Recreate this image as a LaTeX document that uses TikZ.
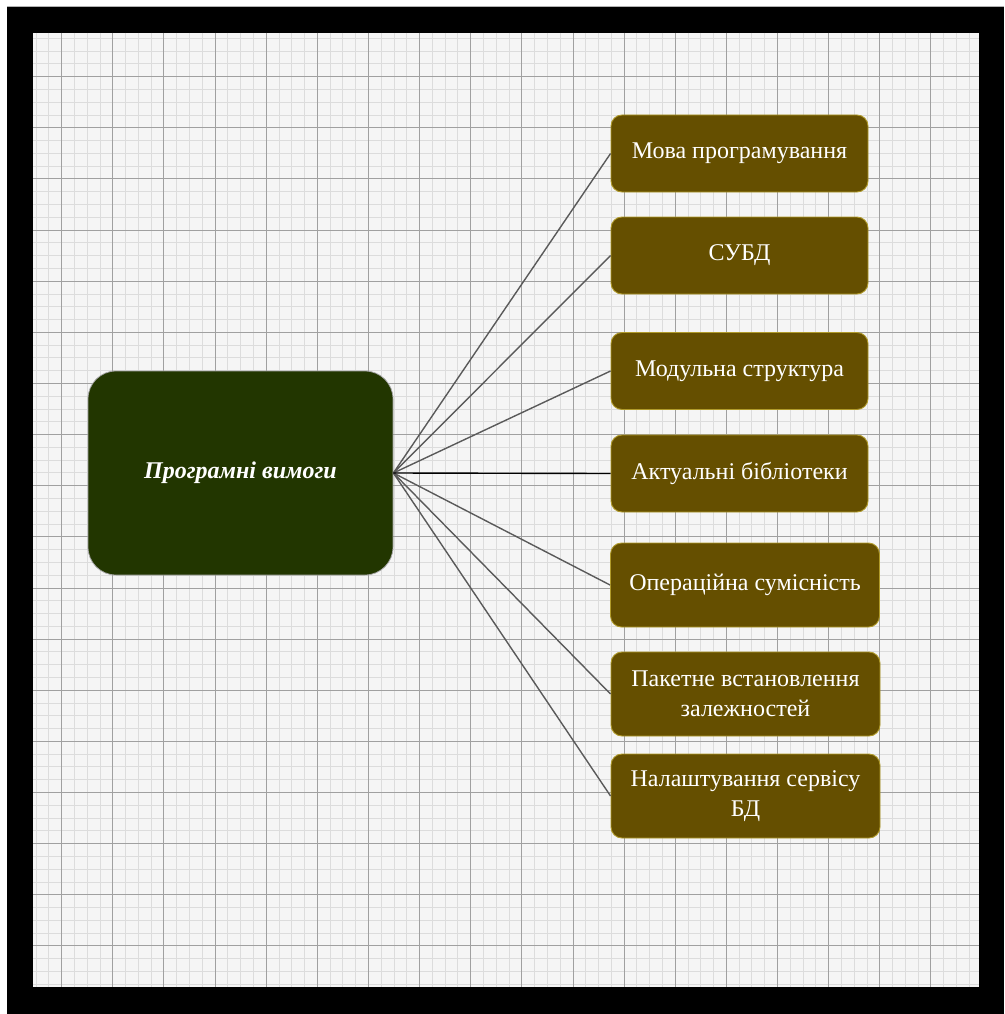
\documentclass[tikz,border=0pt]{standalone}
\usepackage{fontspec}
\setmainfont{Liberation Serif}
\definecolor{gridbg}{HTML}{F5F5F5}
\definecolor{gridminor}{HTML}{DCDCDC}
\definecolor{gridmajor}{HTML}{A0A0A0}
\definecolor{rootfill}{HTML}{223600}
\definecolor{leaffill}{HTML}{654F00}
\definecolor{leafedge}{HTML}{B09A2A}
\definecolor{linkgray}{HTML}{5A5A5A}
\tikzset{
  rootbox/.style={draw=gray!70, fill=rootfill, rounded corners=28pt, line width=0.8pt,
    minimum width=305pt, minimum height=204pt, inner sep=0pt,
    text=white, font=\fontsize{24}{28}\selectfont\bfseries\itshape},
  leafbox/.style={draw=leafedge, fill=leaffill, rounded corners=11pt, line width=0.9pt,
    minimum width=257pt, minimum height=77pt, inner sep=0pt, align=center,
    text=white, font=\fontsize{24}{30}\selectfont},
  widebox/.style={leafbox, minimum width=269pt, minimum height=84pt},
  link/.style={draw=linkgray, line width=1.4pt},
}
\begin{document}
\begin{tikzpicture}[x=1pt,y=-1pt]
  % page and black frame
  \fill[white] (0,0) rectangle (1004,1014);
  \useasboundingbox (0,0) rectangle (1004,1014);
  \fill[black] (7,7) rectangle (1004,1014);
  \draw[gray!60, line width=0.8pt] (7,6.5) -- (1004,6.5);
  % grid paper
  \fill[gridbg] (33,33) rectangle (979,987);
  \begin{scope}
    \clip (33,33) rectangle (979,987);
    \foreach \i in {-3,...,75} {
      \draw[gridminor, line width=1pt] ({61.7+\i*12.783},33) -- ({61.7+\i*12.783},987);
      \draw[gridminor, line width=1pt] (33,{76.7+\i*12.783}) -- (979,{76.7+\i*12.783});
    }
    \foreach \i in {-1,...,19} {
      \draw[gridmajor, line width=1pt] ({61.7+\i*51.13},33) -- ({61.7+\i*51.13},987);
      \draw[gridmajor, line width=1pt] (33,{76.7+\i*51.13}) -- (979,{76.7+\i*51.13});
    }
  \end{scope}
  % central node
  \node[rootbox] (root) at (240.5,473) {Програмні вимоги};
  % requirement nodes
  \node[leafbox] (lang) at (739.5,153.5) {Мова програмування};
  \node[leafbox] (dbms) at (739.5,255.5) {СУБД};
  \node[leafbox] (mod)  at (739.5,371)   {Модульна структура};
  \node[leafbox] (libs) at (739.5,473.5) {Актуальні бібліотеки};
  \node[widebox] (os)   at (745,585)     {Операційна сумісність};
  \node[widebox] (pkg)  at (745.5,694)   {Пакетне встановлення\\залежностей};
  \node[widebox] (svc)  at (745.5,796)   {Налаштування сервісу\\БД};
  % connectors from the central node
  \coordinate (hub) at (root.east);
  \foreach \t in {lang,dbms,mod,os,pkg,svc}
    \draw[link] (hub) -- (\t.west);
  \draw[link, draw=black] (hub) -- (libs.west);
\end{tikzpicture}
\end{document}
